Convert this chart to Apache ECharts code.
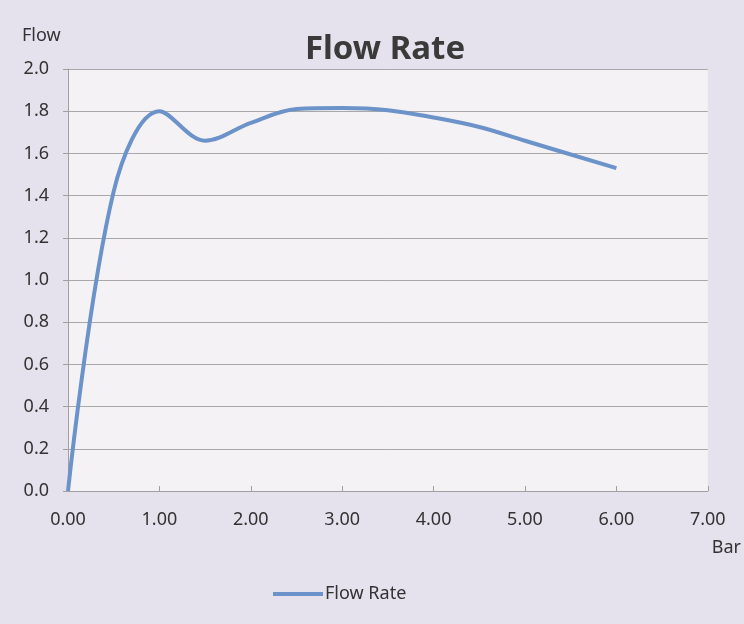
<!DOCTYPE html>
<html><head><meta charset="utf-8">
<script src="https://cdn.jsdelivr.net/npm/echarts@6/dist/echarts.min.js"></script>
<style>html,body{margin:0;padding:0;background:#e5e2ee}#c{width:744px;height:624px}</style>
</head><body><div id="c"></div>
<script>
const pressure = [0, 0.5, 1.0, 1.5, 2.0, 2.5, 3.0, 3.5, 4.0, 4.5, 5.0, 6.0];
const flow = [0, 1.42, 1.80, 1.66, 1.745, 1.81, 1.815, 1.805, 1.77, 1.725, 1.66, 1.53];
const seriesName = 'Flow Rate';
const chart = echarts.init(document.getElementById('c'));
const font = '"Noto Sans", sans-serif';
const txt = '#333333';
chart.setOption({
  backgroundColor: '#e5e2ee',
  animation: false,
  title: { text: 'Flow Rate', left: 380, top: 28, textAlign: 'center',
    textStyle: { fontFamily: font, fontSize: 33, fontWeight: 'bold', color: '#3a3a3a' } },
  legend: { data: [seriesName], left: 268, top: 580, itemWidth: 50, itemHeight: 4,
    icon: 'rect', textStyle: { fontFamily: font, fontSize: 18, color: txt, padding: [0, 0, 0, -3] } },
  grid: { left: 68, right: 36, top: 69, bottom: 133, show: true, backgroundColor: '#f5f2f6', borderWidth: 0 },
  xAxis: { type: 'value', min: 0, max: 7, interval: 1, name: 'Bar', nameLocation: 'end',
    nameGap: 0,
    nameTextStyle: { fontFamily: font, fontSize: 18, color: txt, align: 'left', verticalAlign: 'top', padding: [48, 0, 0, 4] },
    axisLine: { lineStyle: { color: '#a0a0a0', width: 1 } },
    axisTick: { inside: true, length: 5, lineStyle: { color: '#a0a0a0' } },
    splitLine: { show: false },
    axisLabel: { fontFamily: font, fontSize: 18, color: txt, margin: 20, formatter: v => v.toFixed(2) } },
  yAxis: { type: 'value', min: 0, max: 2, interval: 0.2, name: 'Flow', nameLocation: 'end', nameGap: 24,
    nameTextStyle: { fontFamily: font, fontSize: 18, color: txt, align: 'left', padding: [0, 0, 0, -46] },
    axisLine: { show: true, lineStyle: { color: '#a0a0a0' } },
    axisTick: { show: true, length: 5, lineStyle: { color: '#a0a0a0' } },
    splitLine: { lineStyle: { color: '#a8a8a8', width: 1 } },
    axisLabel: { fontFamily: font, fontSize: 18, color: txt, margin: 19, formatter: v => v.toFixed(1) } },
  series: [{ name: seriesName, type: 'line', data: pressure.map((p, i) => [p, flow[i]]),
    smooth: 0.35, showSymbol: false, lineStyle: { color: '#6b93c9', width: 4 }, itemStyle: { color: '#6b93c9' } }]
});
</script></body></html>
